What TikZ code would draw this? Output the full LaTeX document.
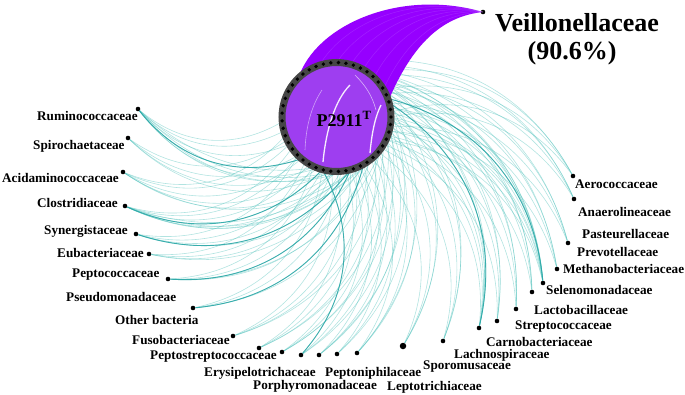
\documentclass[tikz,border=0pt]{standalone}
\usepackage{fontspec}
\setmainfont{Liberation Serif}
\usetikzlibrary{calc}
\definecolor{teal1}{RGB}{72,190,184}
\definecolor{tealdark}{RGB}{40,165,165}
\definecolor{crescent}{RGB}{150,0,255}
\definecolor{discfill}{RGB}{158,62,240}
\definecolor{ringgray}{RGB}{70,70,70}
\begin{document}
\begin{tikzpicture}[x=1pt,y=1pt,
  dot/.style={circle,fill=black,inner sep=0pt,minimum size=4.6pt},
  bigdot/.style={circle,fill=black,inner sep=0pt,minimum size=6.5pt},
  rdot/.style={circle,fill=black,inner sep=0pt,minimum size=3.8pt},
  lab/.style={font=\bfseries\fontsize{13.2}{15}\selectfont,anchor=west,inner sep=0pt},
  link/.style={draw=teal1,line width=0.6pt,opacity=0.42},
  strong/.style={draw=tealdark,line width=0.9pt,opacity=0.85}]
\useasboundingbox (0,0) rectangle (685,-394);
\coordinate (C) at (336.5,-117);
\foreach \a in {0,5,...,355} \path (C) ++(\a:54.5) coordinate (p\a);

% outer nodes
\node[dot] (n1) at (138,-109) {};
\node[dot] (n2) at (128,-138) {};
\node[dot] (n3) at (123,-172) {};
\node[dot] (n4) at (125,-206) {};
\node[dot] (n5) at (136,-234) {};
\node[dot] (n6) at (149,-254) {};
\node[dot] (n7) at (168,-279) {};
\node[dot] (n8) at (193,-308) {};
\node[dot] (n9) at (233,-336) {};
\node[dot] (n10) at (259,-348) {};
\node[dot] (n11) at (282,-352) {};
\node[dot] (n12) at (301,-355) {};
\node[dot] (n13) at (319,-355) {};
\node[dot] (n14) at (337,-354) {};
\node[dot] (n15) at (357,-353) {};
\node[bigdot] (n16) at (403,-346) {};
\node[dot] (n17) at (443,-341) {};
\node[dot] (n18) at (479,-328) {};
\node[dot] (n19) at (497,-321) {};
\node[dot] (n20) at (516,-309) {};
\node[dot] (n21) at (532,-292) {};
\node[dot] (n22) at (543,-283) {};
\node[dot] (n23) at (557,-269) {};
\node[dot] (n24) at (568,-243) {};
\node[dot] (n25) at (574,-199) {};
\node[dot] (n26) at (573,-176) {};

% teal links
\foreach \n/\t in {
  n1/{185,195,210,230,250,270,290,310,330},
  n2/{205,225,245,265},
  n3/{200,210,230,250,270,295},
  n4/{215,225,240,255,270,285,300,320,340},
  n5/{225,245,265,285,305},
  n6/{235,255,275,300},
  n7/{245,265,285,310,330},
  n8/{255,275,300,325},
  n9/{265,285,305,330},
  n10/{270,290,315,340},
  n11/{280,300,325,350},
  n12/{255,285,310,335},
  n13/{290,315,345,10},
  n14/{295,320,350},
  n15/{300,330,355,20},
  n16/{310,335,0,25},
  n17/{320,345,10,35},
  n18/{325,340,350,0,15,40,60},
  n19/{330,355,20,45},
  n20/{335,0,25,50},
  n21/{340,5,30,55},
  n22/{335,345,355,0,10,20,30,45,60,75},
  n23/{345,10,35,60},
  n24/{350,15,40,65},
  n25/{0,25,50,70},
  n26/{5,30,55,80}}
{
  \foreach \a in \t { \draw[link] (\n) to[bend right=35] (p\a); }
}
% stronger links
\draw[strong] (n1) to[bend right=35] (p230);
\draw[strong] (n4) to[bend right=35] (p255);
\draw[strong] (n5) to[bend right=35] (p285);
\draw[strong] (n7) to[bend right=35] (p285);
\draw[strong] (n12) to[bend right=35] (p255);
\draw[strong] (n18) to[bend right=35] (p15);
\draw[strong] (n22) to[bend right=35] (p20);
\draw[strong] (n8) to[bend right=35] (p300);

% crescent band to Veillonellaceae
\node[dot] (v) at (483,-12) {};
\fill[crescent] (298,-79) .. controls (315,-25) and (400,12) .. (v.center)
  .. controls (445,-16) and (415,-40) .. (390,-97) -- (C) -- cycle;
\foreach \s in {0.15,0.3,0.45,0.6,0.75,0.9}
  \draw[white,opacity=0.12,line width=0.5pt] ($(298,-79)!\s!(390,-97)$) .. controls ($(315,-25)!\s!(415,-40)$) and ($(400,12)!\s!(445,-16)$) .. (v.center);

% disc
\fill[discfill] (C) circle (54.5);
\draw[white,line width=1.3pt,opacity=0.9] (323,-162) .. controls (326,-130) and (335,-100) .. (350,-85);
\draw[white,line width=1.3pt,opacity=0.9] (370,-153) .. controls (372,-130) and (376,-115) .. (381,-105);
\draw[white,line width=0.6pt,opacity=0.6] (355,-75) .. controls (365,-85) and (372,-95) .. (376,-110);
\draw[white,line width=0.6pt,opacity=0.5] (305,-150) .. controls (306,-125) and (312,-105) .. (322,-90);
\draw[ringgray,line width=7pt] (C) circle (54.5);
\foreach \a in {0,8,...,352} \path (C) ++(\a:54.5) node[rdot] (r\a) {};

\node[font=\bfseries\fontsize{18}{20}\selectfont,inner sep=0pt] (pl) at (344,-119) {P2911\textsuperscript{T}};

% labels
\node[font=\bfseries\fontsize{26}{28}\selectfont,inner sep=0pt] (vl) at (577,-23) {Veillonellaceae};
\node[font=\bfseries\fontsize{26}{28}\selectfont,inner sep=0pt] (vp) at (572,-53) {(90.6\%)};

\node[lab] (t1) at (37,-116) {Ruminococcaceae};
\node[lab] (t2) at (33,-146) {Spirochaetaceae};
\node[lab] (t3) at (2,-178) {Acidaminococcaceae};
\node[lab] (t4) at (37,-203) {Clostridiaceae};
\node[lab] (t5) at (44,-231) {Synergistaceae};
\node[lab] (t6) at (57,-253) {Eubacteriaceae};
\node[lab] (t7) at (72,-275) {Peptococcaceae};
\node[lab] (t8) at (66,-297) {Pseudomonadaceae};
\node[lab] (t9) at (115,-320) {Other bacteria};
\node[lab] (t10) at (132,-340) {Fusobacteriaceae};
\node[lab] (t11) at (150,-357) {Peptostreptococcaceae};
\node[lab] (t12) at (204,-373) {Erysipelotrichaceae};
\node[lab] (t13) at (253,-386) {Porphyromonadaceae};
\node[lab] (t14) at (325,-373) {Peptoniphilaceae};
\node[lab] (t15) at (387,-387) {Leptotrichiaceae};
\node[lab] (t16) at (423,-367) {Sporomusaceae};
\node[lab] (t17) at (454,-355) {Lachnospiraceae};
\node[lab] (t18) at (486,-342) {Carnobacteriaceae};
\node[lab] (t19) at (515,-327) {Streptococcaceae};
\node[lab] (t20) at (534,-310) {Lactobacillaceae};
\node[lab] (t21) at (546,-290) {Selenomonadaceae};
\node[lab] (t22) at (563,-269) {Methanobacteriaceae};
\node[lab] (t23) at (577,-252) {Prevotellaceae};
\node[lab] (t24) at (582,-234) {Pasteurellaceae};
\node[lab] (t25) at (578,-212) {Anaerolineaceae};
\node[lab] (t26) at (575,-184) {Aerococcaceae};
\end{tikzpicture}
\end{document}
